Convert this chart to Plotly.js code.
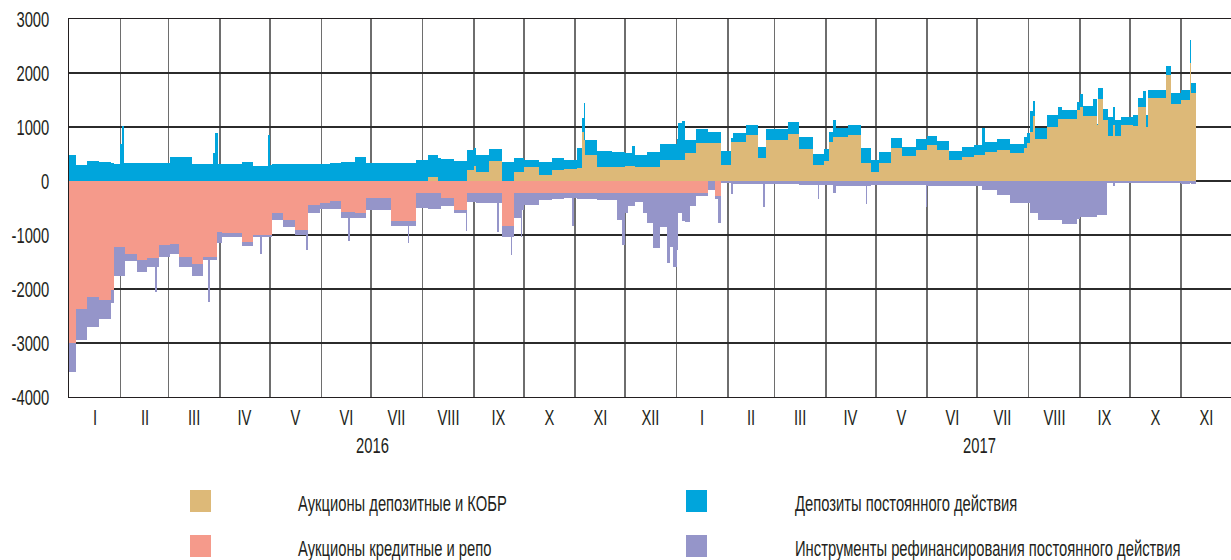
<!DOCTYPE html>
<html>
<head>
<meta charset="utf-8">
<script src="https://cdn.plot.ly/plotly-3.0.1.min.js"></script>
<style>html,body{margin:0;padding:0;background:#fff;}#chart{width:1231px;height:560px;}</style>
</head>
<body>
<div id="chart"></div>
<script>
// ---- data (segment start dates; each value holds until the next date) ----
const dates = [
'2016-01-01','2016-01-05','2016-01-12','2016-01-19','2016-01-26','2016-01-28','2016-02-01','2016-02-02','2016-02-03','2016-02-04',
'2016-02-11','2016-02-17','2016-02-22','2016-02-23','2016-02-24','2016-03-02','2016-03-07','2016-03-15','2016-03-22','2016-03-25',
'2016-03-26','2016-03-28','2016-03-29','2016-03-30','2016-03-31','2016-04-02','2016-04-14','2016-04-21','2016-04-25','2016-04-26',
'2016-04-30','2016-05-01','2016-05-02','2016-05-09','2016-05-16','2016-05-23','2016-05-24','2016-05-31','2016-06-06','2016-06-13',
'2016-06-17','2016-06-18','2016-06-21','2016-06-28','2016-07-13','2016-07-23','2016-07-24','2016-07-28','2016-08-04','2016-08-10',
'2016-08-12','2016-08-20','2016-08-27','2016-08-28','2016-09-01','2016-09-02','2016-09-10','2016-09-15','2016-09-16','2016-09-18',
'2016-09-23','2016-09-24','2016-09-25','2016-09-29','2016-09-30','2016-10-01','2016-10-10','2016-10-18','2016-10-25','2016-10-30',
'2016-10-31','2016-11-02','2016-11-05','2016-11-06','2016-11-07','2016-11-14','2016-11-23','2016-11-26','2016-11-29','2016-12-01',
'2016-12-03','2016-12-05','2016-12-07','2016-12-12','2016-12-14','2016-12-18','2016-12-22','2016-12-26','2016-12-28','2016-12-30',
'2017-01-01','2017-01-02','2017-01-04','2017-01-06','2017-01-09','2017-01-13','2017-01-20','2017-01-24','2017-01-26','2017-01-28',
'2017-02-03','2017-02-04','2017-02-12','2017-02-19','2017-02-22','2017-02-23','2017-02-24','2017-03-09','2017-03-16','2017-03-24',
'2017-03-27','2017-03-28','2017-03-31','2017-04-03','2017-04-05','2017-04-07','2017-04-14','2017-04-22','2017-04-25','2017-04-26',
'2017-04-28','2017-05-03','2017-05-10','2017-05-17','2017-05-25','2017-05-31','2017-06-01','2017-06-07','2017-06-14','2017-06-22',
'2017-06-29','2017-07-04','2017-07-06','2017-07-13','2017-07-21','2017-07-29','2017-07-31','2017-08-02','2017-08-04','2017-08-05',
'2017-08-07','2017-08-12','2017-08-19','2017-08-21','2017-08-30','2017-09-01','2017-09-03','2017-09-09','2017-09-11','2017-09-12',
'2017-09-15','2017-09-17','2017-09-18','2017-09-21','2017-09-22','2017-09-26','2017-10-03','2017-10-06','2017-10-09','2017-10-11',
'2017-10-12','2017-10-23','2017-10-26','2017-11-01','2017-11-06','2017-11-07'
];
const dataEnd = '2017-11-10';

// Аукционы депозитные и КОБР
const depositAuctions = [
0,0,0,0,0,0,0,0,0,0,
0,0,0,0,0,0,0,0,0,0,
0,0,0,0,0,0,0,0,0,0,
0,0,0,0,0,0,0,0,0,0,
0,0,0,0,0,0,0,0,80,0,
0,0,0,205,280,175,375,375,375,0,
0,0,175,175,175,255,110,205,220,220,
220,250,910,760,480,265,265,265,265,280,
280,280,255,255,265,265,390,390,390,390,
390,390,390,510,510,700,700,700,700,295,
730,730,850,420,420,420,760,865,585,295,
295,295,375,730,820,820,850,340,340,340,
175,340,605,470,575,575,665,575,390,450,
480,480,530,575,510,620,700,915,1205,770,
770,1005,1140,1140,1315,1375,1205,1205,1040,1520,
1130,1130,835,1040,835,1040,1020,1375,1375,1005,
1530,1965,1425,1500,2180,1625
];
// Депозиты постоянного действия
const standingDeposits = [
480,300,370,350,330,315,685,1020,330,330,
330,340,340,340,340,450,450,320,320,320,
320,525,895,895,315,315,360,270,270,270,
860,300,310,310,310,310,320,320,330,350,
350,350,440,340,340,340,340,390,400,420,
400,370,370,370,325,305,215,215,215,360,
360,360,245,245,245,135,250,215,170,170,
170,355,250,680,280,295,265,265,265,230,
230,370,225,225,265,265,290,290,290,290,
380,680,730,250,250,260,215,215,215,260,
60,150,190,215,215,215,195,220,225,205,
205,205,210,185,310,155,190,265,265,265,
215,205,185,165,195,195,170,170,170,185,
185,495,200,195,175,190,180,385,285,220,
220,215,225,175,155,230,185,315,20,195,
205,205,345,335,295,140,200,155,290,215,
155,170,210,185,430,195
];
// Аукционы кредитные и репо
const creditAuctions = [
-3000,-2370,-2140,-2200,-2020,-1230,-1230,-1230,-1230,-1350,
-1460,-1420,-1420,-1420,-1185,-1170,-1400,-1540,-1400,-1400,
-1400,-1400,-1400,-950,-950,-970,-1135,-1000,-1000,-1000,
-1000,-1000,-600,-720,-910,-910,-445,-400,-370,-580,
-580,-580,-600,-320,-740,-740,-740,-230,-215,-215,
-320,-535,-535,-230,-230,-230,-230,-230,-230,-830,
-830,-830,-230,-230,-230,-230,-230,-230,-230,-230,
-230,-230,-230,-230,-230,-230,-230,-230,-230,-225,
-225,-225,-225,-225,-225,-225,-225,-225,-225,-225,
-225,-225,-225,-225,-225,-225,0,-280,-280,0,
0,0,0,0,0,0,0,0,0,0,
0,0,0,0,0,0,0,0,0,0,
0,0,0,0,0,0,0,0,0,0,
0,0,0,0,0,0,0,0,0,0,
0,0,0,0,0,0,0,0,0,0,
0,0,0,0,0,0,0,0,0,0,
0,0,0,0,0,0
];
// Инструменты рефинансирования постоянного действия
const standingRefinancing = [
-530,-575,-560,-350,-245,-520,-520,-520,-520,-125,
-220,-170,-630,-170,-215,-180,-190,-210,-60,-835,
-60,-60,-60,-200,-200,-75,-65,-45,-350,-45,
-45,-45,-115,-140,-90,-370,-155,-120,-155,-110,
-540,-110,-90,-220,-90,-400,-100,-275,-300,-300,
-140,-65,-400,-150,-150,-170,-180,-710,-180,-200,
-540,-200,-450,-800,-300,-210,-120,-110,-90,-600,
-90,-95,-95,-95,-95,-120,-120,-490,-955,-375,
-245,-245,-155,-375,-550,-1020,-620,-1300,-1000,-1365,
-1055,-375,-520,-530,-240,-60,-170,-60,-490,-40,
-240,-55,-55,-55,-475,-55,-55,-50,-75,-75,
-340,-75,-75,-75,-230,-90,-90,-90,-425,-90,
-75,-75,-75,-75,-75,-490,-85,-90,-90,-90,
-90,-165,-165,-260,-400,-415,-415,-600,-600,-600,
-720,-720,-720,-800,-700,-660,-660,-660,-630,-630,
-630,-45,-45,-100,-45,-45,-40,-40,-40,-40,
-40,-45,-40,-50,-40,-50
];

const seriesNames = [
  'Аукционы депозитные и КОБР',
  'Депозиты постоянного действия',
  'Аукционы кредитные и репо',
  'Инструменты рефинансирования постоянного действия'
];
const monthLabels = ['I','II','III','IV','V','VI','VII','VIII','IX','X','XI','XII',
                     'I','II','III','IV','V','VI','VII','VIII','IX','X','XI'];
const yearLabels = ['2016','2017'];
const yTickVals = [-4000,-3000,-2000,-1000,0,1000,2000,3000];
const yTickText = ['-4000','-3000','-2000','-1000','0','1000','2000','3000'];

// ---- checks ----
[depositAuctions, standingDeposits, creditAuctions, standingRefinancing].forEach((a,i)=>{
  if (a.length !== dates.length) throw new Error('length mismatch in series '+i+': '+a.length+' vs '+dates.length);
});

// ---- font: condensed look via horizontal text scaling ----
const FONT = "'Liberation Sans', Arial, sans-serif";
const FS = 22;
const TXT = '#231f20';
const ctx = document.createElement('canvas').getContext('2d');
ctx.font = FS + "px 'Liberation Sans', Arial, sans-serif";
const refWidth = 209;  // width of the first legend text in the reference, px
let SX = refWidth / ctx.measureText(seriesNames[0]).width;
if (!(SX > 0.5 && SX < 1.1)) SX = 0.76;

const colors = ['#DDB978', '#00A5DC', '#F59A8B', '#9595C9'];

const ms = dates.map(d => Date.parse(d));
const endMs = Date.parse(dataEnd);
const widths = ms.map((t,i) => (i < ms.length-1 ? ms[i+1] : endMs) - t);

function barTrace(values, color, name) {
  return {
    type: 'bar', x: dates, y: values, width: widths, offset: 0, name: name,
    marker: {color: color, line: {width: 0}}, hoverinfo: 'skip', showlegend: false
  };
}
const traces = [
  barTrace(depositAuctions, colors[0], seriesNames[0]),
  barTrace(standingDeposits, colors[1], seriesNames[1]),
  barTrace(creditAuctions, colors[2], seriesNames[2]),
  barTrace(standingRefinancing, colors[3], seriesNames[3])
];

function iso(t) { return new Date(t).toISOString().slice(0,19).replace('T',' '); }

const annotations = [];
monthLabels.forEach((lab, i) => {
  const a = Date.UTC(2016, i, 1), b = Date.UTC(2016, i+1, 1);
  annotations.push({x: iso((a+b)/2), xref: 'x', y: -0.053, yref: 'paper',
    text: lab, showarrow: false, xanchor: 'center', yanchor: 'middle', align: 'center',
    font: {family: FONT, size: FS, color: TXT}});
});
yearLabels.forEach((lab) => {
  const yr = parseInt(lab, 10);
  const a = Date.UTC(yr, 0, 1), b = Date.UTC(yr+1, 0, 1);
  annotations.push({x: iso((a+b)/2), xref: 'x', y: -0.128, yref: 'paper',
    text: lab, showarrow: false, xanchor: 'center', yanchor: 'middle', align: 'center',
    font: {family: FONT, size: FS, color: TXT}});
});

// legend (2 x 2), drawn as swatches + texts
const plotW = 1231 - 69, plotH = 397 - 19;
const px = v => (v - 69) / plotW;
const py = v => (397 - v) / plotH;
const legendCells = [
  {s: 0, sx: 190, tx: 297, y0: 490, y1: 512},
  {s: 1, sx: 686, tx: 794, y0: 490, y1: 512},
  {s: 2, sx: 190, tx: 297, y0: 535, y1: 557},
  {s: 3, sx: 686, tx: 794, y0: 535, y1: 557}
];
const shapes = [];
legendCells.forEach(c => {
  shapes.push({type: 'rect', xref: 'paper', yref: 'paper',
    x0: px(c.sx), x1: px(c.sx + 21), y0: py(c.y1), y1: py(c.y0),
    fillcolor: colors[c.s], line: {width: 0}});
  annotations.push({x: px(c.tx), xref: 'paper', y: py((c.y0 + c.y1)/2 + 2), yref: 'paper',
    text: seriesNames[c.s], showarrow: false, xanchor: 'left', yanchor: 'middle', align: 'left',
    borderpad: 0, font: {family: FONT, size: FS, color: TXT}});
});

const layout = {
  width: 1231, height: 560,
  margin: {l: 69, r: 0, t: 19, b: 163, pad: 0},
  paper_bgcolor: '#ffffff', plot_bgcolor: '#ffffff',
  barmode: 'relative', bargap: 0,
  font: {family: FONT, size: FS, color: TXT},
  showlegend: false,
  xaxis: {
    type: 'date', range: ['2016-01-01', '2017-12-01'],
    tickmode: 'linear', tick0: '2016-01-01', dtick: 'M1',
    showticklabels: false, ticks: '',
    showgrid: true, gridcolor: '#6e6e6e', gridwidth: 1.6,
    showline: true, linecolor: '#231f20', linewidth: 1.3, mirror: true,
    zeroline: false, fixedrange: true
  },
  yaxis: {
    range: [-4000, 3000], tickmode: 'array', tickvals: yTickVals, ticktext: yTickText,
    ticks: '', ticklabelstandoff: 14,
    tickfont: {family: FONT, size: FS, color: TXT},
    showgrid: true, gridcolor: '#2b2b2b', gridwidth: 1.3,
    zeroline: false, showline: true, linecolor: '#231f20', linewidth: 1.3,
    fixedrange: true
  },
  annotations: annotations,
  shapes: shapes
};

Plotly.newPlot('chart', traces, layout, {displayModeBar: false, staticPlot: true}).then(gd => {
  gd.querySelectorAll('svg text').forEach(t => {
    const x = parseFloat(t.getAttribute('x')) || 0;
    const prev = t.getAttribute('transform') || '';
    t.setAttribute('transform', prev + ' translate(' + x + ',0) scale(' + SX + ',1) translate(' + (-x) + ',0)');
  });
});
</script>
</body>
</html>
